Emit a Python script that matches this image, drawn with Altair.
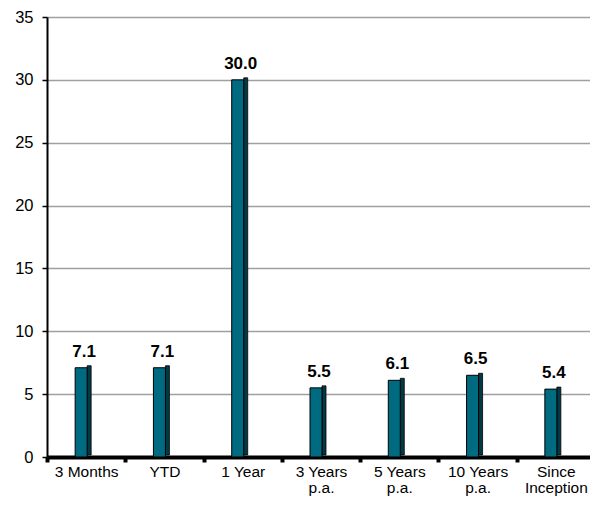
import altair as alt
import pandas as pd

categories = ["3 Months", "YTD", "1 Year", "3 Years\np.a.", "5 Years\np.a.", "10 Years\np.a.", "Since\nInception"]
values = [7.1, 7.1, 30.0, 5.5, 6.1, 6.5, 5.4]
labels = ["7.1", "7.1", "30.0", "5.5", "6.1", "6.5", "5.4"]

df = pd.DataFrame({"cat": categories, "val": values, "lab": labels})

FONT = "Liberation Sans"

x = alt.X("cat:N", sort=categories, title=None,
          scale=alt.Scale(paddingInner=0, paddingOuter=0, range=[0, 548]),
          axis=alt.Axis(labelExpr="isValid(datum.value) ? split(datum.value, '\\n') : ''",
                        labelAngle=0,
                        labelFont=FONT, labelFontSize=15.5, labelColor="black",
                        labelLineHeight=16, labelPadding=2,
                        domainColor="black", domainWidth=4,
                        tickColor="black", tickWidth=4, tickSize=5, tickBand="extent",
                        grid=False))
y = alt.Y("val:Q", title=None,
          scale=alt.Scale(domain=[0, 35], nice=False),
          axis=alt.Axis(values=[0, 5, 10, 15, 20, 25, 30, 35],
                        labelFont=FONT, labelFontSize=16.5, labelColor="black",
                        labelPadding=9, tickSize=5, tickColor="black", tickWidth=1.5,
                        domainColor="black", domainWidth=2,
                        gridColor="#a0a0a0", gridWidth=1.5))

base = alt.Chart(df)

side = base.mark_bar(width=4, xOffset=3, yOffset=-2, color="#003a47",
                     stroke="black", strokeWidth=0.8).encode(x=x, y=y)
face = base.mark_bar(width=12, xOffset=-5, color="#006a80",
                     stroke="black", strokeWidth=1).encode(x=x, y=y)
text = base.mark_text(font=FONT, fontSize=17, fontWeight="bold", dy=-11, xOffset=-2,
                      baseline="alphabetic", color="black").encode(x=x, y=y, text="lab:N")

chart = alt.layer(side, face, text).properties(
    width=543, height=440,
    autosize=alt.AutoSizeParams(type="none"),
    padding={"left": 39, "top": 9, "right": 0, "bottom": 40},
).configure_view(stroke=None).configure(background="white")

chart.save("out.html", embed_options={"renderer": "svg", "actions": False})
